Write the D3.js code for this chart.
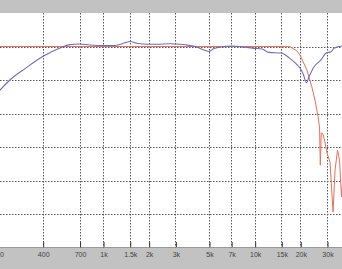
<!DOCTYPE html>
<html>
<head>
<meta charset="utf-8">
<script src="https://cdn.jsdelivr.net/npm/d3@7"></script>
<style>
  html, body { margin: 0; padding: 0; background: #fff; }
  svg { display: block; }
</style>
</head>
<body>
<div id="chart"></div>
<script>
// frequency ticks (Hz) and their labels
const tickFreqs  = [200, 400, 700, 1000, 1500, 2000, 3000, 5000, 7000, 10000, 15000, 20000, 30000];
const tickLabels = ["200", "400", "700", "1k", "1.5k", "2k", "3k", "5k", "7k", "10k", "15k", "20k", "30k"];
const levelTicks = [10, 0, -10, -20, -30, -40, -50, -60];

// measured response (blue)
const measFreq = [200, 243, 306, 400, 520, 605, 700, 820, 1000, 1164, 1294, 1500, 1675, 1950, 2270, 2766,
                  3220, 3750, 4170, 4640, 5000, 5310, 6000, 7000, 8240, 10000, 11200, 12400, 15000, 16900,
                  18800, 19900, 20900, 22000, 22800, 24600, 27400, 29600, 31900, 33400, 37700, 40000];
const measDb   = [-14, -10, -6.6, -3.0, -0.45, 0.55, 0.75, 0.45, 0.25, 0.25, 0.6, 1.5, 0.95, 0.65, 0.65, 0.8,
                  0.65, 0.25, -0.25, -1.05, -1.5, -0.75, -0.15, 0.1, -0.1, -0.55, -0.75, -1.75, -1.95, -3.4,
                  -5.2, -6.4, -8.2, -10.8, -9.1, -6.1, -4.0, -1.95, -1.55, -0.55, 0.15, 0.2];

// reference / filter response (red)
const refFreq = [200, 16000, 17100, 18900, 19900, 22100, 23800, 25000, 26200, 26800, 27100, 27500, 28200,
                 29100, 30000, 31400, 32900, 33900, 35200, 36300, 37400, 38500, 40000];
const refDb   = [0, 0, -0.05, -1.25, -2.5, -7.0, -12.0, -16.0, -21.0, -24.3, -35.4, -25.8, -26.1,
                 -28.5, -31.8, -34.5, -49.4, -36.9, -30.9, -33.9, -44.9, -36.9, -40];

const W = 342, H = 269;
const plotTop = 13, plotBottom = 247.5;

const svg = d3.select("#chart").append("svg")
    .attr("width", W)
    .attr("height", H);

const x = d3.scaleLog().domain([400, 30000]).range([42.7, 327]);
const y = d3.scaleLinear().domain([-60, 10]).range([plotBottom, plotTop]);

// grey bands
svg.append("rect").attr("x", 0).attr("y", 0).attr("width", W).attr("height", plotTop)
    .attr("fill", "#c2c2c2");
svg.append("rect").attr("x", 0).attr("y", plotBottom).attr("width", W).attr("height", H - plotBottom)
    .attr("fill", "#c2c2c2");
svg.append("line").attr("x1", 0).attr("x2", W).attr("y1", plotBottom).attr("y2", plotBottom)
    .attr("stroke", "#9a9a9a").attr("stroke-width", 1);

// grid
const grid = svg.append("g").attr("class", "grid");
grid.selectAll("line.h")
    .data(levelTicks.filter(d => d > -60 && d < 10))
    .join("line")
    .attr("class", "h")
    .attr("x1", 0).attr("x2", W)
    .attr("y1", d => Math.round(y(d)) + 0.5)
    .attr("y2", d => Math.round(y(d)) + 0.5)
    .attr("stroke", "#555")
    .attr("stroke-width", 1)
    .attr("stroke-dasharray", "1.5,1.5");

grid.selectAll("line.v")
    .data(tickFreqs)
    .join("line")
    .attr("class", "v")
    .attr("x1", d => Math.round(x(d)) + 0.5)
    .attr("x2", d => Math.round(x(d)) + 0.5)
    .attr("y1", plotTop).attr("y2", plotBottom)
    .attr("stroke", "#555")
    .attr("stroke-width", 1)
    .attr("stroke-dasharray", "1.5,1.5");

// clip curves to plot area
svg.append("clipPath").attr("id", "plotClip")
  .append("rect").attr("x", 0).attr("y", plotTop).attr("width", W).attr("height", plotBottom - plotTop);

const plot = svg.append("g").attr("clip-path", "url(#plotClip)");

const refLine = d3.line()
    .x((d, i) => x(refFreq[i]))
    .y(d => y(d));

const measLine = d3.line()
    .x((d, i) => x(measFreq[i]))
    .y(d => y(d))
    .curve(d3.curveMonotoneX);

plot.append("path")
    .datum(refDb)
    .attr("d", refLine)
    .attr("fill", "none")
    .attr("stroke", "#e8705a")
    .attr("stroke-width", 1);

plot.append("path")
    .datum(measDb)
    .attr("d", measLine)
    .attr("fill", "none")
    .attr("stroke", "#6e6eb8")
    .attr("stroke-width", 1.1);

// bottom axis
const xAxis = d3.axisBottom(x)
    .tickValues(tickFreqs)
    .tickFormat((d, i) => tickLabels[i])
    .tickSize(-5)
    .tickPadding(5);

const axisG = svg.append("g")
    .attr("transform", `translate(0.5,${plotBottom - 0.5})`)
    .call(xAxis);

axisG.select(".domain").remove();
axisG.selectAll(".tick line").attr("stroke", "#333");
axisG.selectAll(".tick text")
    .attr("fill", "#444")
    .style("font-family", "'Liberation Sans', Arial, sans-serif")
    .style("font-size", "7px");
</script>
</body>
</html>
